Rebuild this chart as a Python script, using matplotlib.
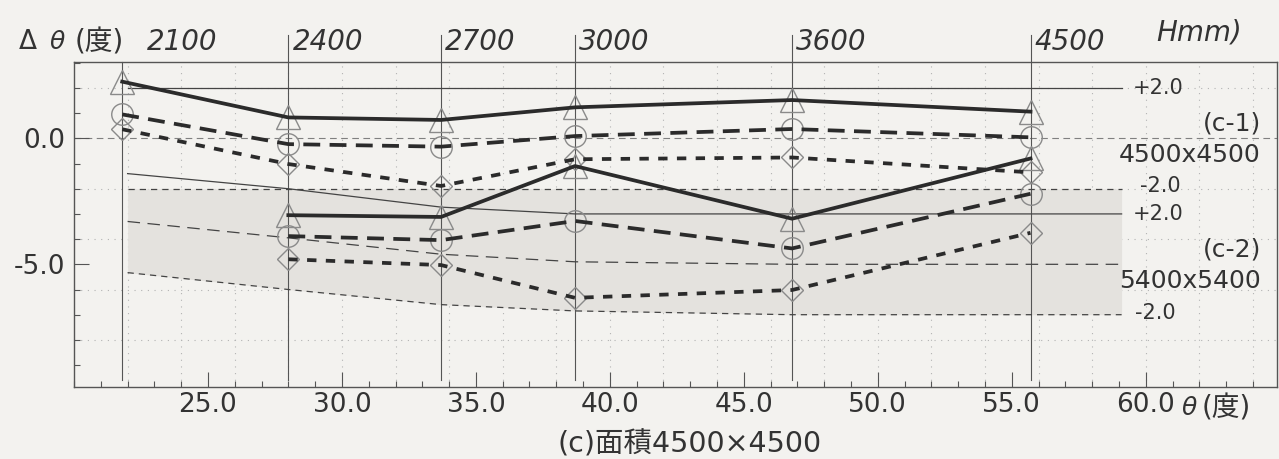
import matplotlib.pyplot as plt
from matplotlib.ticker import FixedLocator, MultipleLocator, FormatStrFormatter

# 天井高さ H (mm) ごとの角度 θ (度)
h_labels = ["2100", "2400", "2700", "3000", "3600", "4500"]
theta_h = [21.8, 28.0, 33.7, 38.7, 46.8, 55.7]

# (c-1) 4500x4500
c1_tri = [2.25, 0.83, 0.73, 1.23, 1.52, 1.06]
c1_cir = [0.95, -0.23, -0.33, 0.09, 0.37, 0.04]
c1_dia = [0.36, -1.02, -1.89, -0.83, -0.76, -1.35]

# (c-2) 5400x5400 (2100 なし)
c2_theta = [28.0, 33.7, 38.7, 46.8, 55.7]
c2_tri = [-3.05, -3.12, -1.10, -3.19, -0.80]
c2_cir = [-3.88, -4.04, -3.28, -4.37, -2.20]
c2_dia = [-4.80, -5.03, -6.33, -6.02, -3.75]

# ±2.0 の許容線
band_x = [22.0, 28.0, 33.7, 38.7, 46.8, 59.1]
c1_hi = [2.0, 2.0, 2.0, 2.0, 2.0, 2.0]
c1_lo = [-2.0, -2.0, -2.0, -2.0, -2.0, -2.0]
c2_hi = [-1.40, -2.00, -2.73, -3.00, -3.00, -3.00]
c2_mid = [-3.30, -3.95, -4.60, -4.90, -5.00, -5.00]
c2_lo = [-5.33, -6.00, -6.60, -6.85, -7.00, -7.00]

x_ticks = [25, 30, 35, 40, 45, 50, 55, 60]
y_ticks = [0, -5]

BG = "#f3f2ef"
INK = "#2b2b2b"
TXT = "#333333"
JP = ["DejaVu Sans", "Noto Sans CJK JP"]

fig = plt.figure(figsize=(12.79, 4.59), dpi=100, facecolor=BG)
ax = fig.add_axes([74 / 1279, 1 - 386.5 / 459, (1277 - 74) / 1279, (386.5 - 62) / 459])
ax.set_facecolor(BG)
ax.set_xlim(20, 64.9)
ax.set_ylim(-9.85, 3.03)

# dotted grid
for gx in range(22, 65, 2):
    ax.axvline(gx, color="#b3b3b3", lw=0.8, ls=(0, (1, 5)), zorder=0)
for gy in [2, -2, -4, -6, -8]:
    ax.axhline(gy, color="#b3b3b3", lw=0.8, ls=(0, (1, 5)), zorder=0)
ax.axhline(0, color="#808080", lw=0.8, ls=(0, (6, 4)), zorder=1)

# shaded band
ax.fill_between(band_x, c1_lo, c2_lo, color="#e4e2de", lw=0, zorder=0.5)

# reference lines
ax.plot(band_x, c1_hi, color="#444444", lw=0.9, zorder=2)
ax.plot(band_x, c1_lo, color="#444444", lw=0.9, ls=(0, (5, 4)), zorder=2)
ax.plot(band_x, c2_hi, color="#444444", lw=0.9, zorder=2)
ax.plot(band_x, c2_mid, color="#444444", lw=0.9, ls=(0, (10, 6)), zorder=2)
ax.plot(band_x, c2_lo, color="#444444", lw=0.9, ls=(0, (5, 4)), zorder=2)

# vertical H lines
for i, (t, lab) in enumerate(zip(theta_h, h_labels)):
    top = 3.03 if i == 0 else 4.1
    ax.plot([t, t], [-9.6, top], color="#555555", lw=0.8, zorder=1, clip_on=False)
    dx = 18 if i == 0 else 3
    ax.annotate(lab, xy=(t, 1), xycoords=("data", "axes fraction"),
                xytext=(dx, 14.5), textcoords="offset points",
                ha="left", va="center", fontsize=20, style="italic", color=TXT)

mk = dict(mfc="none", mec="#8a8a8a", mew=1.0, ls="none", zorder=3)
for xs, tri, cir, dia in [(theta_h, c1_tri, c1_cir, c1_dia),
                          (c2_theta, c2_tri, c2_cir, c2_dia)]:
    ax.plot(xs, tri, marker="^", ms=17, **mk)
    ax.plot(xs, cir, marker="o", ms=15.5, **mk)
    ax.plot(xs, dia, marker="D", ms=11, **mk)
    ax.plot(xs, tri, color=INK, lw=2.7, zorder=4)
    ax.plot(xs, cir, color=INK, lw=2.7, ls=(0, (4.5, 2.5)), zorder=4)
    ax.plot(xs, dia, color=INK, lw=2.7, ls=(0, (2.5, 2.5)), zorder=4)

# right-hand labels
ax.text(59.5, 2.0, "+2.0", fontsize=15, va="center", color=TXT)
ax.text(64.3, 0.58, "(c-1)", fontsize=18, va="center", ha="right", color=TXT)
ax.text(64.3, -0.65, "4500x4500", fontsize=18, va="center", ha="right", color=TXT)
ax.text(59.8, -1.9, "-2.0", fontsize=15, va="center", color=TXT)
ax.text(59.5, -3.0, "+2.0", fontsize=15, va="center", color=TXT)
ax.text(64.3, -4.4, "(c-2)", fontsize=18, va="center", ha="right", color=TXT)
ax.text(64.3, -5.65, "5400x5400", fontsize=18, va="center", ha="right", color=TXT)
ax.text(59.6, -6.95, "-2.0", fontsize=15, va="center", color=TXT)

# ticks
ax.xaxis.set_major_locator(FixedLocator(x_ticks))
ax.xaxis.set_minor_locator(MultipleLocator(1))
ax.yaxis.set_major_locator(FixedLocator(y_ticks))
ax.yaxis.set_minor_locator(MultipleLocator(1))
ax.xaxis.set_major_formatter(FormatStrFormatter("%.1f"))
ax.yaxis.set_major_formatter(FormatStrFormatter("%.1f"))
ax.tick_params(which="both", direction="in", colors="#555555", labelcolor=TXT,
               labelsize=19)
ax.tick_params(which="major", length=11, width=0.8)
ax.tick_params(which="minor", length=4.5, width=0.8)
ax.tick_params(axis="y", pad=6.5)
ax.tick_params(axis="x", pad=4)
for s in ax.spines.values():
    s.set_color("#555555")
    s.set_linewidth(1.0)

# axis titles
fig.text(19 / 1279, 1 - 42 / 459, "Δ", fontsize=19, va="center", color=TXT)
fig.text(50 / 1279, 1 - 42 / 459, "θ", fontsize=18, style="italic", va="center", color=TXT)
fig.text(75 / 1279, 1 - 42 / 459, "(度)", fontsize=20, va="center", color=TXT, family=JP)
fig.text(1156 / 1279, 1 - 32 / 459, "Hmm)", fontsize=20, style="italic", va="center", color=TXT)
fig.text(1182 / 1279, 1 - 408 / 459, "θ", fontsize=18, style="italic", va="center", color=TXT)
fig.text(1202 / 1279, 1 - 408 / 459, "(度)", fontsize=20, va="center", color=TXT, family=JP)
fig.text(690 / 1279, 1 - 445 / 459, "(c)面積4500×4500", fontsize=20.5, ha="center",
         va="center", color=TXT, family=JP)

fig.savefig("out.png", dpi=100, facecolor=BG)
